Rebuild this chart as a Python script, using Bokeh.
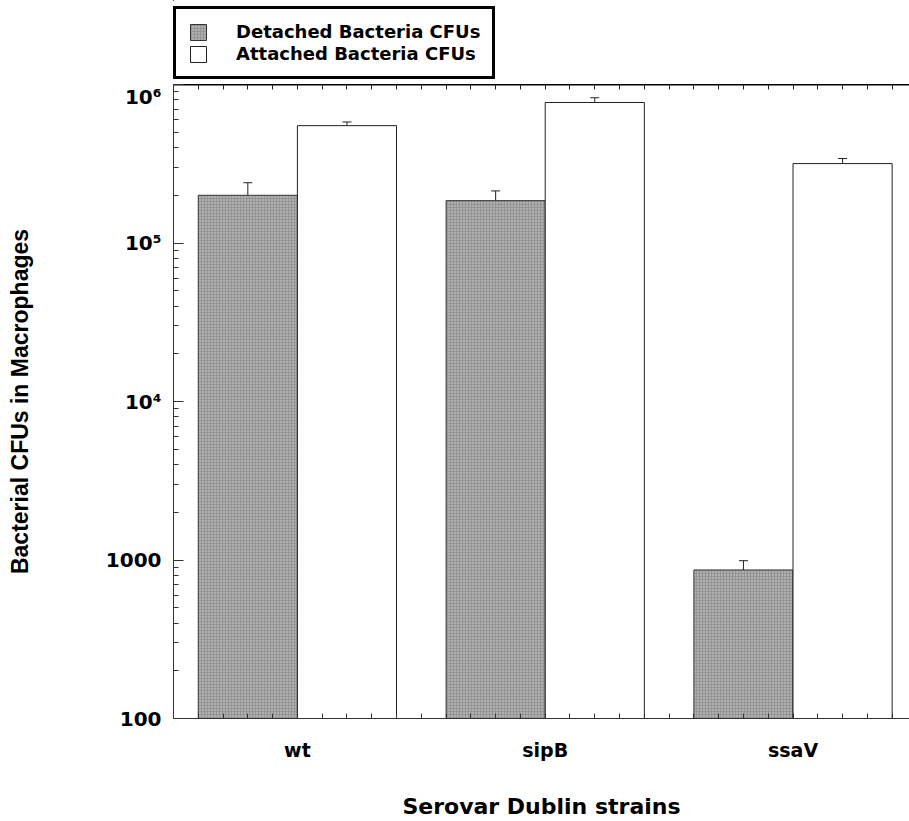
from bokeh.plotting import figure
from bokeh.layouts import column
from bokeh.models import (Range1d, FixedTicker, LinearAxis, ColumnDataSource,
                          Whisker, TeeHead, Legend, LegendItem)
from bokeh.embed import file_html
from bokeh.resources import INLINE

# ---- data ----
strains = ["wt", "sipB", "ssaV"]
detached = [2.0e5, 1.85e5, 865]
detached_err = [4.0e4, 2.8e4, 125]
attached = [5.5e5, 7.7e5, 3.17e5]
attached_err = [3.0e4, 5.5e4, 2.4e4]
y_ticks = [100, 1000, 10000, 100000, 1000000]
y_tick_labels = ["100", "1000", "10⁴", "10⁵", "10⁶"]
series_labels = ["Detached Bacteria CFUs", "Attached Bacteria CFUs"]

group_pos = [0.5, 1.5, 2.5]
offset = 0.2
bar_w = 0.4
det_x = [g - offset for g in group_pos]
att_x = [g + offset for g in group_pos]

BOLD_WIDE = "DejaVu Sans"
DET_STYLE = dict(fill_color="#959595", line_color="#333333", line_width=1,
                 hatch_pattern="dot", hatch_color="#d8d8d8", hatch_scale=3, hatch_weight=1)
ATT_STYLE = dict(fill_color="white", line_color="#222222", line_width=1)

# ---------------- main plot ----------------
p = figure(width=909, height=737, x_range=Range1d(0, 2.97),
           y_range=Range1d(100, 1e6), y_axis_type="log",
           output_backend="svg", toolbar_location=None,
           min_border_left=173, min_border_right=0,
           min_border_top=0, min_border_bottom=101)
p.outline_line_color = None
p.grid.visible = False
p.background_fill_color = "white"
p.border_fill_color = "white"

det_src = ColumnDataSource(dict(x=det_x, top=detached,
                                upper=[v + e for v, e in zip(detached, detached_err)],
                                lower=[v - e for v, e in zip(detached, detached_err)]))
att_src = ColumnDataSource(dict(x=att_x, top=attached,
                                upper=[v + e for v, e in zip(attached, attached_err)],
                                lower=[v - e for v, e in zip(attached, attached_err)]))

p.vbar(x="x", top="top", bottom=y_ticks[0], width=bar_w, source=det_src, **DET_STYLE)
p.vbar(x="x", top="top", bottom=y_ticks[0], width=bar_w, source=att_src, **ATT_STYLE)

for src in (det_src, att_src):
    w = Whisker(base="x", upper="upper", lower="lower", source=src,
                line_color="#222222", line_width=1,
                upper_head=TeeHead(size=9, line_color="#222222", line_width=1),
                lower_head=TeeHead(size=9, line_color="#222222", line_width=1))
    p.add_layout(w)

minor_x = [round(0.1 * i, 2) for i in range(1, 30)]

# bottom axis: category labels + ticks
xa = p.xaxis[0]
xa.ticker = FixedTicker(ticks=group_pos, minor_ticks=minor_x)
xa.major_label_overrides = {g: s for g, s in zip(group_pos, strains)}
xa.major_tick_in = 0
xa.major_tick_out = 0
xa.minor_tick_in = 5
xa.minor_tick_out = 0
xa.axis_line_color = "#333333"
xa.minor_tick_line_color = "#333333"
xa.major_label_standoff = 20
xa.major_label_text_font = BOLD_WIDE
xa.major_label_text_font_style = "bold"
xa.major_label_text_font_size = "19px"
xa.major_label_text_color = "black"
xa.axis_label = "Serovar Dublin strains"
xa.axis_label_text_font = BOLD_WIDE
xa.axis_label_text_font_style = "bold"
xa.axis_label_text_font_size = "22px"
xa.axis_label_text_color = "black"
xa.axis_label_standoff = 30

# top axis: ticks only
top_axis = LinearAxis(ticker=FixedTicker(ticks=[], minor_ticks=minor_x))
top_axis.major_tick_in = 0
top_axis.major_tick_out = 0
top_axis.minor_tick_in = 5
top_axis.minor_tick_out = 0
top_axis.major_label_standoff = 0
top_axis.axis_line_width = 2
top_axis.axis_line_color = "black"
top_axis.minor_tick_line_color = "#222222"
p.add_layout(top_axis, "above")

# left axis
minor_y = [m * d for d in y_ticks[:-1] for m in range(2, 10)]
ya = p.yaxis[0]
ya.ticker = FixedTicker(ticks=y_ticks, minor_ticks=minor_y)
ya.major_label_overrides = {t: s for t, s in zip(y_ticks, y_tick_labels)}
ya.major_tick_in = 10
ya.major_tick_out = 0
ya.minor_tick_in = 5
ya.minor_tick_out = 0
ya.axis_line_color = "#333333"
ya.major_tick_line_color = "#333333"
ya.minor_tick_line_color = "#333333"
ya.major_label_standoff = 12
ya.major_label_text_font = BOLD_WIDE
ya.major_label_text_font_style = "bold"
ya.major_label_text_font_size = "20px"
ya.major_label_text_color = "black"
ya.axis_label = "Bacterial CFUs in Macrophages"
ya.axis_label_text_font = "Liberation Sans"
ya.axis_label_text_font_style = "bold"
ya.axis_label_text_font_size = "23px"
ya.axis_label_text_color = "black"
ya.axis_label_standoff = 70

# ---------------- legend strip ----------------
# the strip's ranges lie away from the bars' span, so its proxy bars stay out of view
lg = figure(width=909, height=84, x_range=Range1d(100, 101), y_range=Range1d(-2, -1),
            output_backend="svg", toolbar_location=None,
            x_axis_location=None, y_axis_location=None,
            min_border=0)
lg.outline_line_color = None
lg.grid.visible = False
d_r = lg.vbar(x=det_x, top=detached, width=bar_w, **DET_STYLE)
a_r = lg.vbar(x=att_x, top=attached, width=bar_w, **ATT_STYLE)

leg = Legend(items=[LegendItem(label=series_labels[0], renderers=[d_r]),
                    LegendItem(label=series_labels[1], renderers=[a_r])],
             location=(0, 5))
leg.glyph_width = 20
leg.glyph_height = 20
leg.label_height = 20
leg.label_standoff = 28
leg.padding = 12
leg.spacing = 1
leg.margin = 0
leg.border_line_color = "black"
leg.border_line_width = 3
leg.border_line_alpha = 1
leg.background_fill_color = "white"
leg.background_fill_alpha = 1
leg.label_text_font = BOLD_WIDE
leg.label_text_font_style = "bold"
leg.label_text_font_size = "18px"
leg.label_text_color = "black"
leg.label_text_line_height = 1.0
lg.add_layout(leg)

layout = column(lg, p, spacing=0)
open("out.html", "w").write(file_html(layout, INLINE))
